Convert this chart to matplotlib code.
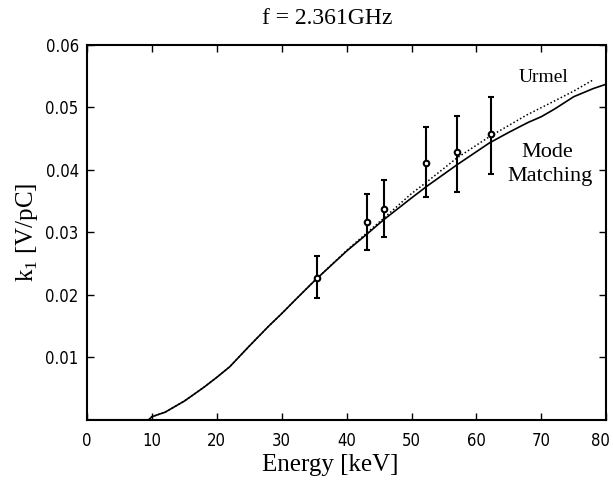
import matplotlib
matplotlib.use('Agg')
import matplotlib.pyplot as plt
import matplotlib.transforms as mtransforms
import numpy as np

# Mode Matching (solid)
mm_energy = [0, 9.5, 10, 12, 15, 18, 20, 22, 25, 28, 30, 32, 35, 40, 43, 45.7,
             50, 52.4, 57, 62, 65, 68, 70, 72, 75, 78, 80]
mm_k = [0, 0, 0.0005, 0.0012, 0.0030, 0.0052, 0.0068, 0.0085, 0.0118, 0.0150,
        0.0170, 0.0191, 0.0222, 0.0270, 0.0296, 0.0320, 0.0355, 0.0374, 0.0408,
        0.0443, 0.0460, 0.0476, 0.0485, 0.0497, 0.0517, 0.0530, 0.0537]

# Urmel (dotted)
ur_energy = [0, 9.5, 10, 12, 15, 18, 20, 22, 25, 28, 30, 32, 35, 40, 45, 50,
             52.4, 57, 62, 67.8, 72, 75, 78]
ur_k = [0, 0, 0.0005, 0.0012, 0.0030, 0.0052, 0.0068, 0.0085, 0.0118, 0.0150,
        0.0170, 0.0191, 0.0222, 0.0271, 0.0316, 0.0362, 0.0381, 0.0419, 0.0453,
        0.0488, 0.0510, 0.0526, 0.0544]

# measurements
meas_energy = [35.5, 43.1, 45.8, 52.3, 57.0, 62.2]
meas_k = [0.0227, 0.0316, 0.0338, 0.0411, 0.0429, 0.0458]
meas_top = [0.0262, 0.0362, 0.0384, 0.0468, 0.0486, 0.0517]
meas_bot = [0.0195, 0.0271, 0.0292, 0.0356, 0.0365, 0.0394]

serif = ['Liberation Serif', 'DejaVu Serif']

fig = plt.figure(figsize=(6.13, 4.87), dpi=100)
ax = fig.add_axes([0.142, 0.138, 0.847, 0.770])

ax.plot(mm_energy, mm_k, color='black', lw=1.2)
ax.plot(ur_energy, ur_k, color='black', lw=1.1, ls=(0, (1, 1.5)))

yerr = [np.array(meas_k) - np.array(meas_bot), np.array(meas_top) - np.array(meas_k)]
ax.errorbar(meas_energy, meas_k, yerr=yerr, fmt='o', color='black', ms=4,
            mfc='white', mec='black', mew=1.5, elinewidth=1.5, capsize=2.5)

ax.set_xlim(0, 80)
ax.set_ylim(0, 0.06)
ax.set_xticks(range(0, 81, 10))
ax.set_yticks([0.01, 0.02, 0.03, 0.04, 0.05, 0.06])
ax.set_yticklabels(['0.01', '0.02', '0.03', '0.04', '0.05', '0.06'])
ax.tick_params(direction='in', top=True, right=True, length=5, width=1,
               labelsize=12)
ax.tick_params(axis='x', pad=9)
ax.tick_params(axis='y', pad=6)
for lab in ax.get_xticklabels() + ax.get_yticklabels():
    lab.set_family('DejaVu Sans')
    lab.set_stretch('condensed')
# nudge the last x label so it stays inside the figure
last = ax.get_xticklabels()[-1]
last.set_transform(last.get_transform() +
                   mtransforms.ScaledTranslation(-6 / 100, 0, fig.dpi_scale_trans))
for sp in ax.spines.values():
    sp.set_linewidth(1.5)

ax.set_xlabel('Energy [keV]', family=serif, fontsize=18, labelpad=-1)
ax.xaxis.set_label_coords((330 - 87) / 519, -0.09)
ax.set_ylabel(r'k$_\mathregular{1}$ [V/pC]', family=serif, fontsize=18, labelpad=4)
fig.text(327 / 613, 1 - 18 / 487, 'f = 2.361GHz', family=serif, fontsize=17,
         ha='center', va='center')

ax.text(70.3, 0.0547, 'Urmel', family=serif, fontsize=14, ha='center', va='center')
ax.text(70.9, 0.0427, 'Mode', family=serif, fontsize=16, ha='center', va='center')
ax.text(71.4, 0.0389, 'Matching', family=serif, fontsize=16, ha='center', va='center')

fig.savefig('out.png', dpi=100)
